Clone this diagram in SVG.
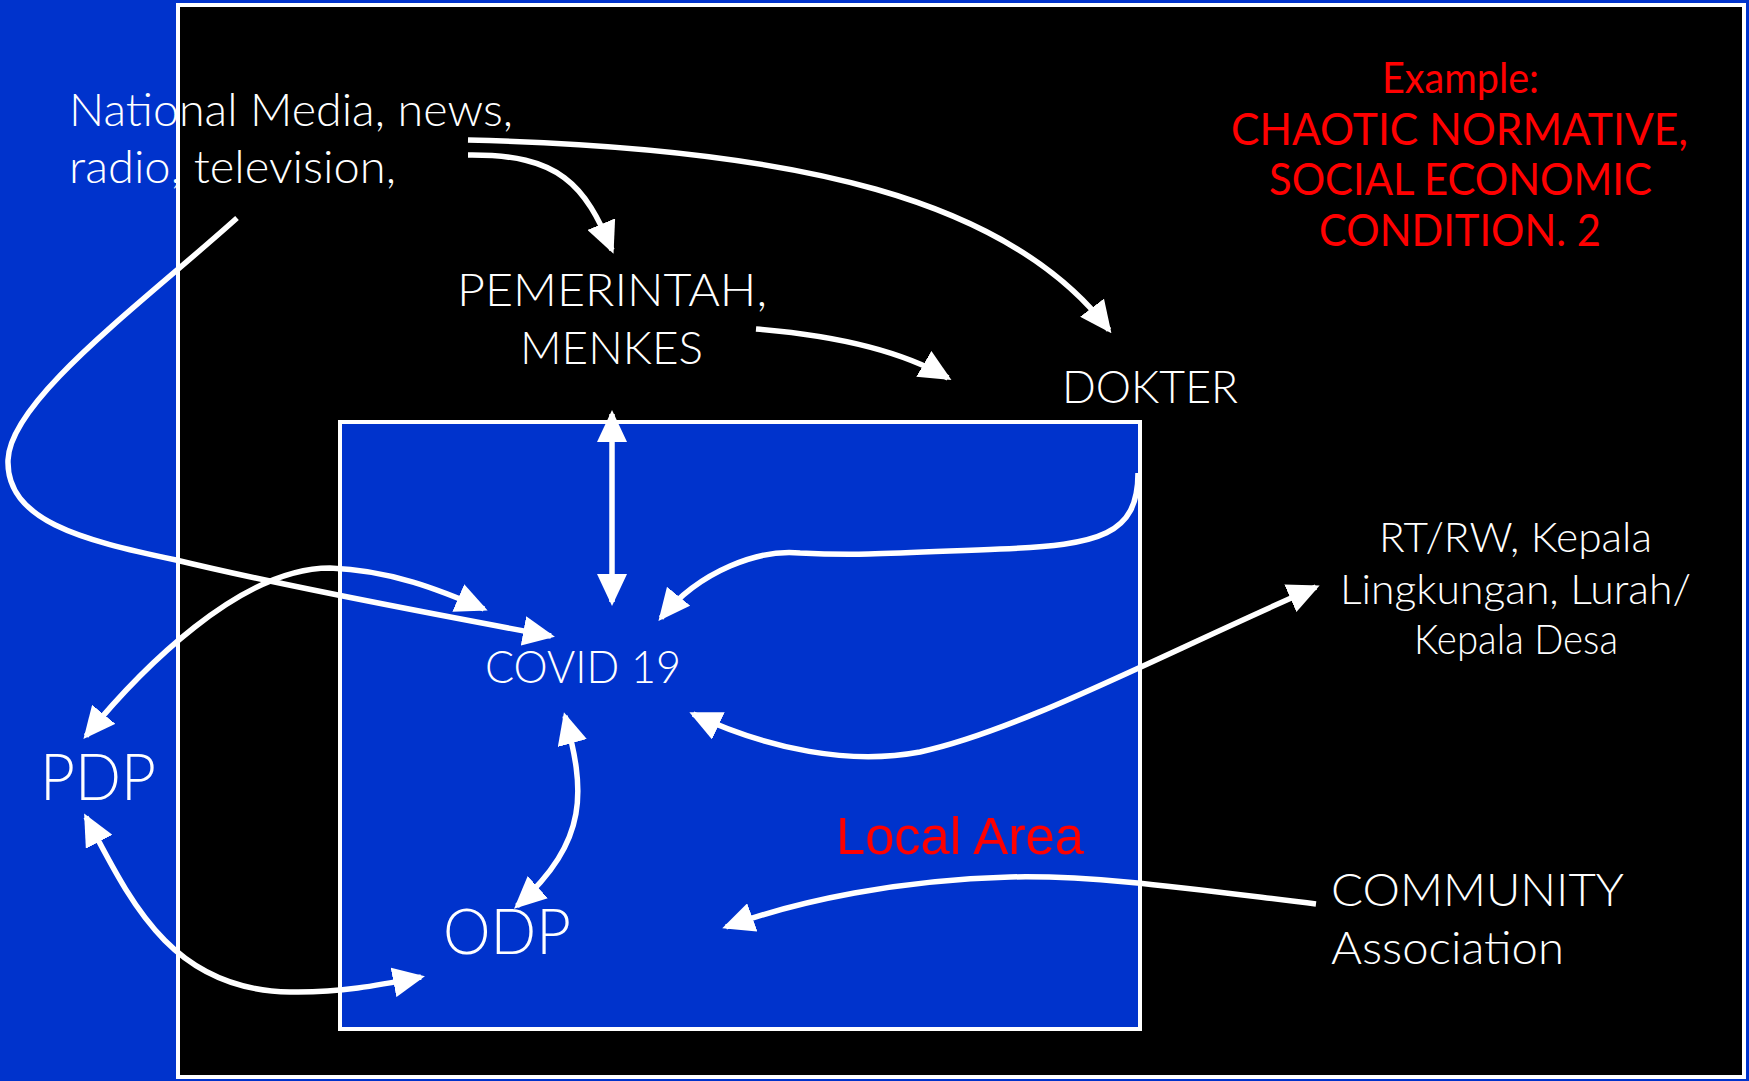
<svg xmlns="http://www.w3.org/2000/svg" width="1749" height="1081" viewBox="0 0 1749 1081">
<defs>
<style>
.t{font-family:Lato,"Open Sans","Noto Sans",sans-serif;font-weight:300;fill:#fff;}
.r{font-family:Lato,"Open Sans","Noto Sans",sans-serif;font-weight:400;fill:#ff0000;}
.c{fill:none;stroke:#fff;stroke-width:5.5;marker-end:url(#ah);}
.b{marker-start:url(#ah);}
</style>
<marker id="ah" viewBox="0 0 32 30" refX="28" refY="15" markerWidth="32" markerHeight="30" markerUnits="userSpaceOnUse" orient="auto-start-reverse">
<path d="M0,0 L32,15 L0,30 Z" fill="#fff"/>
</marker>
</defs>
<rect x="0" y="0" width="1749" height="1081" fill="#0033cc"/>
<rect id="frame" x="178" y="5" width="1566" height="1072" fill="#000" stroke="#fff" stroke-width="4"/>
<rect id="local-area-box" x="340" y="422" width="800" height="607" fill="#0033cc" stroke="#fff" stroke-width="4"/>

<g id="connectors">
<path class="c" d="M468,140 C800,148 1010,200 1109,330"/>
<path class="c" d="M468,155 C560,154 585,185 612,250"/>
<path class="c" d="M756,329 C830,335 900,350 948,378"/>
<path class="c" d="M237,218 C140,305 10,400 8,460 C6,520 80,540 176,560 C250,578 400,608 551,636"/>
<path class="c b" d="M612,414 L612,602"/>
<path class="c" d="M1138,473 C1138,535 1100,545 1000,549 C900,553 860,556 800,553 C760,549 700,570 661,618"/>
<path class="c b" d="M86,736 C140,670 240,568 330,568 C390,570 440,590 484,609"/>
<path class="c b" d="M565,716 C585,790 590,840 517,906"/>
<path class="c b" d="M86,817 C130,900 170,990 290,992 C340,993 380,985 421,977"/>
<path class="c b" d="M693,714 C770,750 850,765 920,752 C1020,730 1150,660 1316,587"/>
<path class="c" d="M1316,904 C1200,890 1100,875 1010,877 C900,880 800,900 726,927"/>
</g>

<g id="national-media">
<text class="t" x="69" y="126" font-size="46" textLength="444" lengthAdjust="spacingAndGlyphs">National Media, news,</text>
<text class="t" x="69" y="183" font-size="46" textLength="327" lengthAdjust="spacingAndGlyphs">radio, television,</text>
</g>
<g id="pemerintah">
<text class="t" x="457" y="306" font-size="46" textLength="310" lengthAdjust="spacingAndGlyphs">PEMERINTAH,</text>
<text class="t" x="520" y="364" font-size="46" textLength="183" lengthAdjust="spacingAndGlyphs">MENKES</text>
</g>
<g id="dokter">
<text class="t" x="1062" y="403" font-size="45" textLength="176" lengthAdjust="spacingAndGlyphs">DOKTER</text>
</g>
<g id="example">
<text class="r" x="1382" y="93" font-size="42" textLength="157" lengthAdjust="spacingAndGlyphs">Example:</text>
<text class="r" x="1231" y="145" font-size="44" textLength="457" lengthAdjust="spacingAndGlyphs">CHAOTIC NORMATIVE,</text>
<text class="r" x="1269" y="195" font-size="44" textLength="383" lengthAdjust="spacingAndGlyphs">SOCIAL ECONOMIC</text>
<text class="r" x="1319" y="246" font-size="44" textLength="282" lengthAdjust="spacingAndGlyphs">CONDITION. 2</text>
</g>
<g id="rt-rw">
<text class="t" x="1379" y="552" font-size="42" textLength="273" lengthAdjust="spacingAndGlyphs">RT/RW, Kepala</text>
<text class="t" x="1340" y="604" font-size="42" textLength="351" lengthAdjust="spacingAndGlyphs">Lingkungan, Lurah/</text>
<text class="t" x="1414" y="654" font-size="42" textLength="204" lengthAdjust="spacingAndGlyphs">Kepala Desa</text>
</g>
<g id="covid">
<text class="t" x="485" y="683" font-size="45" textLength="196" lengthAdjust="spacingAndGlyphs">COVID 19</text>
</g>
<g id="pdp">
<text class="t" x="40" y="800" font-size="66" textLength="116" lengthAdjust="spacingAndGlyphs">PDP</text>
</g>
<g id="odp">
<text class="t" x="443" y="954" font-size="63" textLength="128" lengthAdjust="spacingAndGlyphs">ODP</text>
</g>
<g id="local-area">
<text x="836" y="854" font-family="'Liberation Sans',Arial,sans-serif" font-size="51" fill="#ff0000" textLength="248" lengthAdjust="spacingAndGlyphs">Local Area</text>
</g>
<g id="community">
<text class="t" x="1331" y="906" font-size="46" textLength="293" lengthAdjust="spacingAndGlyphs">COMMUNITY</text>
<text class="t" x="1331" y="964" font-size="46" textLength="233" lengthAdjust="spacingAndGlyphs">Association</text>
</g>
</svg>
